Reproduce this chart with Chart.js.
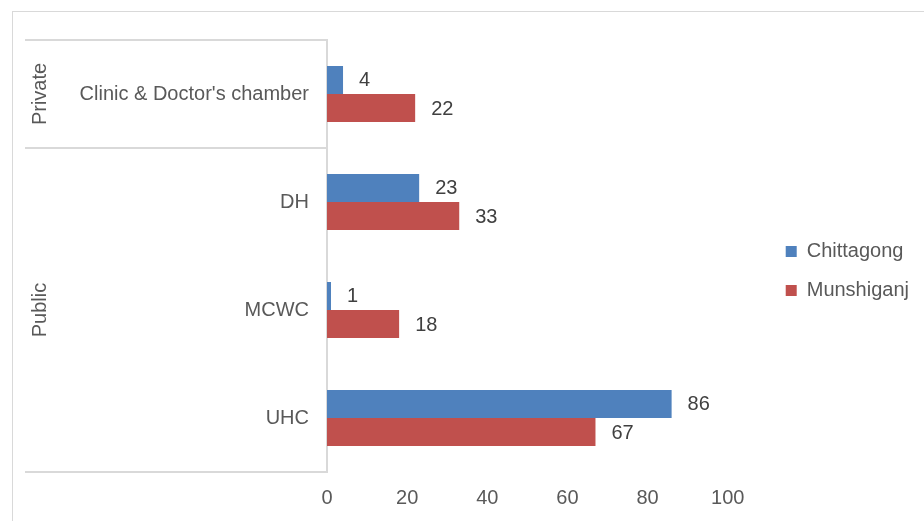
<!DOCTYPE html>
<html><head><meta charset="utf-8">
<script src="https://cdn.jsdelivr.net/npm/chart.js@4.4.0/dist/chart.umd.min.js"></script>
<style>
html,body{margin:0;padding:0;background:#fff;overflow:hidden;}
#wrap{position:relative;width:924px;height:521px;}
#frame{position:absolute;left:12px;top:11px;width:1000px;height:600px;border:1px solid #d9d9d9;box-sizing:border-box;}
canvas{position:absolute;left:0;top:0;}
</style></head><body>
<div id="wrap"><div id="frame"></div><canvas id="c" width="924" height="521"></canvas></div>
<script>
// ---- data ----
const categories = ["Clinic & Doctor's chamber", "DH", "MCWC", "UHC"];
const groupNames = ["Private", "Public"];
const groupStart = [0, 1];
const groupEnd = [0, 3];
const seriesNames = ["Chittagong", "Munshiganj"];
const chittagong = [4, 23, 1, 86];
const munshiganj = [22, 33, 18, 67];
const xTickValues = [0, 20, 40, 60, 80, 100];

// ---- styles ----
const FONT = "'Liberation Sans', Arial, sans-serif";
const TEXT = '#595959';
const LINE = '#d9d9d9';
const LEGEND_SHIFT = 39;
const LEGEND_LIFT = 3;

const groupPlugin = {
  id: 'groups',
  afterLayout(chart) {
    chart.legend.left += LEGEND_SHIFT;
    chart.legend.right += LEGEND_SHIFT;
    chart.legend.top -= LEGEND_LIFT;
    chart.legend.bottom -= LEGEND_LIFT;
  },
  afterDraw(chart) {
    const ctx = chart.ctx, y = chart.scales.y, area = chart.chartArea;
    const half = (y.getPixelForValue(1) - y.getPixelForValue(0)) / 2;
    ctx.save();
    ctx.strokeStyle = LINE; ctx.lineWidth = 2;
    ctx.fillStyle = TEXT; ctx.font = '20px ' + FONT;
    ctx.textAlign = 'center'; ctx.textBaseline = 'middle';
    groupNames.forEach((g, i) => {
      const top = y.getPixelForValue(groupStart[i]) - half;
      const bot = y.getPixelForValue(groupEnd[i]) + half;
      ctx.beginPath();
      ctx.moveTo(25, top); ctx.lineTo(area.left, top);
      ctx.moveTo(25, bot); ctx.lineTo(area.left, bot);
      ctx.stroke();
      ctx.save();
      ctx.translate(40, (top + bot) / 2);
      ctx.rotate(-Math.PI / 2);
      ctx.fillText(g, 0, 0);
      ctx.restore();
    });
    ctx.restore();
  },
  afterDatasetsDraw(chart) {
    const ctx = chart.ctx;
    ctx.save();
    ctx.fillStyle = '#404040'; ctx.font = '20px ' + FONT;
    ctx.textAlign = 'left'; ctx.textBaseline = 'middle';
    chart.data.datasets.forEach((ds, di) => {
      chart.getDatasetMeta(di).data.forEach((el, i) => {
        ctx.fillText(String(ds.data[i]), el.x + 16, el.y + 1);
      });
    });
    ctx.restore();
  }
};

new Chart(document.getElementById('c'), {
  type: 'bar',
  data: {
    labels: categories,
    datasets: [
      { label: seriesNames[0], data: chittagong, backgroundColor: '#4F81BD', borderWidth: 0 },
      { label: seriesNames[1], data: munshiganj, backgroundColor: '#C0504D', borderWidth: 0 }
    ]
  },
  options: {
    indexAxis: 'y',
    responsive: false,
    animation: false,
    layout: { padding: { left: 0, right: 44, top: 40, bottom: 13 } },
    datasets: { bar: { categoryPercentage: 0.52, barPercentage: 1 } },
    scales: {
      x: {
        min: 0, max: 100,
        afterBuildTicks: s => { s.ticks = xTickValues.map(v => ({ value: v })); },
        afterFit: s => { s.height = 36; },
        grid: { display: false, drawTicks: false },
        border: { display: false },
        ticks: { font: { size: 20, family: FONT }, color: TEXT, padding: 14 }
      },
      y: {
        afterFit: s => { s.width = 327; },
        grid: { display: false, drawTicks: false },
        border: { display: true, color: LINE, width: 2 },
        ticks: { font: { size: 20, family: FONT }, color: TEXT, padding: 18 }
      }
    },
    plugins: {
      legend: {
        position: 'right',
        labels: { boxWidth: 11, boxHeight: 11, padding: 19, font: { size: 20, family: FONT }, color: TEXT }
      },
      tooltip: { enabled: false }
    }
  },
  plugins: [groupPlugin]
});
</script>
</body></html>
